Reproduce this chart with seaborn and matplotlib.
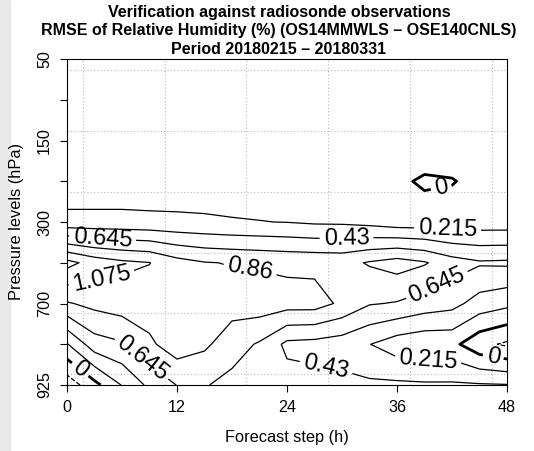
import numpy as np
import pandas as pd
import matplotlib
matplotlib.use("Agg")
import matplotlib.pyplot as plt
from matplotlib.patches import Rectangle
import seaborn as sns

# ---- data -------------------------------------------------------------
steps = [0, 3, 6, 9, 12, 15, 18, 21, 24, 27, 30, 33, 36, 39, 42, 45, 48]
level_names = ["50", "100", "150", "250", "300", "500", "700", "850", "925"]
level_ticklabels = ["50", "", "150", "", "300", "", "700", "", "925"]
x_ticks = [0, 12, 24, 36, 48]

r50  = [0.12, 0.12, 0.11, 0.11, 0.10, 0.10, 0.11, 0.12, 0.12, 0.13, 0.13, 0.14, 0.14, 0.15, 0.15, 0.15, 0.15]
r100 = [0.09, 0.10, 0.10, 0.10, 0.10, 0.09, 0.09, 0.10, 0.11, 0.11, 0.12, 0.12, 0.13, 0.14, 0.14, 0.13, 0.13]
r150 = [0.07, 0.08, 0.08, 0.09, 0.09, 0.09, 0.08, 0.09, 0.10, 0.10, 0.11, 0.11, 0.12, 0.15, 0.12, 0.11, 0.11]
r250 = [0.07, 0.07, 0.07, 0.07, 0.08, 0.08, 0.10, 0.10, 0.10, 0.10, 0.10, 0.09, 0.04, -0.03, -0.01, 0.05, 0.06]
r300 = [0.28, 0.28, 0.28, 0.27, 0.26, 0.25, 0.23, 0.22, 0.21, 0.185, 0.18, 0.15, 0.10, 0.10, 0.09, 0.10, 0.10]
r500 = [1.36, 1.20, 1.12, 1.08, 0.94, 0.87, 0.85, 0.83, 0.81, 0.80, 0.79, 0.88, 0.95, 0.88, 0.74, 0.67, 0.68]
r700 = [0.84, 0.92, 0.97, 0.97, 0.98, 0.96, 0.95, 0.98, 0.95, 0.95, 0.82, 0.66, 0.63, 0.55, 0.50, 0.34, 0.27]
r850 = [0.20, 0.55, 0.62, 0.82, 0.98, 0.90, 0.74, 0.62, 0.38, 0.36, 0.32, 0.22, 0.10, 0.05, 0.06, -0.15, -0.25]
r925 = [-0.35, -0.065, 0.225, 0.48, 0.65, 0.66, 0.58, 0.57, 0.52, 0.50, 0.49, 0.47, 0.47, 0.46, 0.46, 0.45, 0.44]

labelled_levels = [0.0, 0.215, 0.43, 0.645, 0.86, 1.075]
other_levels = [-0.43, -0.215, 1.29]

title_lines = ["Verification against radiosonde observations",
               "RMSE of Relative Humidity (%) (OS14MMWLS \u2013 OSE140CNLS)",
               "Period 20180215 \u2013 20180331"]

table = pd.DataFrame([r50, r100, r150, r250, r300, r500, r700, r850, r925],
                     index=level_names, columns=steps)

# ---- style ------------------------------------------------------------
sns.set_theme(style="ticks")
plt.rcParams['font.family'] = ['Liberation Sans', 'DejaVu Sans']

fig = plt.figure(figsize=(5.34, 4.51), dpi=100)
fig.patches.append(Rectangle((0, 0), 10 / 534, 1, transform=fig.transFigure,
                             color='#e9e9e9', zorder=-5))
ax = fig.add_axes([67 / 534, 1 - 385 / 451, 440 / 534, 326 / 451])

nlev = len(table.index)
top = nlev - 1
ypos = top - np.arange(nlev)          # first level (50 hPa) drawn at the top
X, Y = np.meshgrid(table.columns.values.astype(float), ypos)
Z = table.values.astype(float)

lws = [2.0 if abs(l) < 1e-9 else 0.9 for l in labelled_levels]
cs = ax.contour(X, Y, Z, levels=labelled_levels, colors='black',
                linewidths=lws, linestyles='solid', zorder=3)
lss = ['dashed' if l < 0 else 'solid' for l in other_levels]
cs2 = ax.contour(X, Y, Z, levels=other_levels, colors='black',
                 linewidths=0.9, linestyles=lss, zorder=3)

# label anchor points: (forecast step, level index counted from top)
label_spots = [(3.9, 4.34), (3.9, 5.52), (20.0, 5.13), (30.5, 4.42),
               (41.5, 4.22), (40.7, 3.02), (40.5, 5.62), (8.5, 7.26),
               (28.1, 7.73), (39.4, 7.44), (46.4, 7.44), (1.4, 7.63)]


def fmt(v):
    return ('%g' % round(v, 3))


ax.clabel(cs, manual=[(x, top - r) for x, r in label_spots], inline=True,
          inline_spacing=4, fontsize=17, fmt=fmt, colors='black')

ax.set_xlim(0, 48)
ax.set_ylim(0, top)
ax.set_xticks(x_ticks)
ax.set_xticklabels([str(t) for t in x_ticks])
ax.set_yticks(ypos)
ax.set_yticklabels(level_ticklabels, rotation=90, va='center')

# dotted reference grid
ax.set_xticks([1.75, 10.69, 19.53, 28.47, 37.42, 46.36], minor=True)
ax.set_yticks([top - g for g in [0.27, 1.77, 3.26, 4.75, 6.24, 7.73]], minor=True)
ax.grid(which='minor', color='#b8b8b8', linestyle=(0, (1, 2)), linewidth=0.8)
ax.grid(which='major', visible=False)
ax.tick_params(which='minor', length=0)
ax.tick_params(which='major', direction='out', length=5.3, width=0.8,
               color='black', labelsize=11.6, labelcolor='black', pad=5.5)
for s in ax.spines.values():
    s.set_color('black')
    s.set_linewidth(0.8)
ax.set_facecolor('white')

ax.set_xlabel("Forecast step (h)", fontsize=11.8, color='black', labelpad=11)
ax.set_ylabel("Pressure levels (hPa)", fontsize=11.8, color='black')
ax.yaxis.set_label_coords((24 - 67) / 440, 0.5)

for i, line in enumerate(title_lines):
    fig.text(279 / 534, 1 - (12.5 + 18.5 * i) / 451, line, ha='center', va='center',
             fontsize=11.5, fontweight='bold', color='black')

fig.savefig("out.png", dpi=100)
